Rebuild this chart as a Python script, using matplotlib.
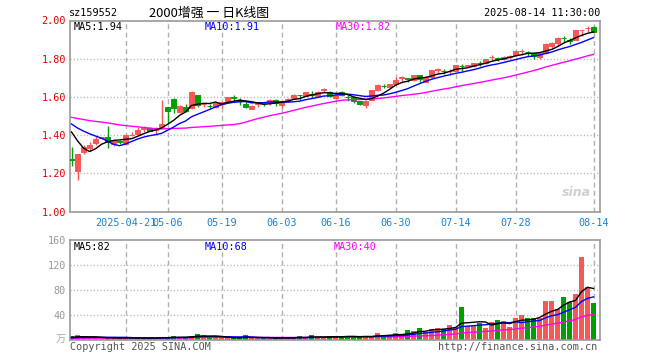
import numpy as np
import pandas as pd
import matplotlib
matplotlib.use("Agg")
import matplotlib.pyplot as plt

# ---------------- data ----------------
opens = [1.275, 1.21, 1.312, 1.335, 1.361, 1.383, 1.388, 1.352, 1.367, 1.356,
         1.398, 1.405, 1.43, 1.439, 1.428, 1.44, 1.547, 1.59, 1.52, 1.549,
         1.54, 1.609, 1.562, 1.553, 1.547, 1.565, 1.577, 1.597, 1.583, 1.565,
         1.539, 1.563, 1.565, 1.574, 1.586, 1.556, 1.577, 1.595, 1.610, 1.607,
         1.614, 1.607, 1.636, 1.624, 1.595, 1.626, 1.600, 1.598, 1.577, 1.556,
         1.586, 1.638, 1.657, 1.652, 1.665, 1.70, 1.697, 1.688, 1.713, 1.678,
         1.706, 1.742, 1.737, 1.734, 1.735, 1.763, 1.762, 1.762, 1.777, 1.775,
         1.808, 1.802, 1.797, 1.81, 1.82, 1.838, 1.837, 1.832, 1.81, 1.828,
         1.866, 1.88, 1.908, 1.897, 1.90, 1.948, 1.96, 1.967]
highs = [1.34, 1.30, 1.35, 1.365, 1.396, 1.392, 1.448, 1.38, 1.375, 1.40,
         1.418, 1.44, 1.45, 1.44, 1.44, 1.582, 1.547, 1.595, 1.56, 1.563,
         1.63, 1.61, 1.568, 1.563, 1.57, 1.575, 1.60, 1.612, 1.595, 1.577,
         1.556, 1.57, 1.568, 1.591, 1.588, 1.575, 1.595, 1.613, 1.612, 1.628,
         1.633, 1.63, 1.644, 1.63, 1.613, 1.63, 1.612, 1.60, 1.58, 1.582,
         1.636, 1.67, 1.665, 1.667, 1.703, 1.71, 1.70, 1.715, 1.715, 1.71,
         1.742, 1.753, 1.748, 1.744, 1.766, 1.77, 1.768, 1.78, 1.788, 1.80,
         1.82, 1.81, 1.812, 1.82, 1.842, 1.85, 1.84, 1.832, 1.83, 1.88,
         1.885, 1.912, 1.919, 1.906, 1.95, 1.952, 1.971, 1.97]
lows = [1.24, 1.165, 1.30, 1.317, 1.347, 1.378, 1.33, 1.345, 1.352, 1.355,
        1.397, 1.40, 1.418, 1.42, 1.40, 1.435, 1.462, 1.515, 1.515, 1.52,
        1.535, 1.547, 1.548, 1.535, 1.54, 1.542, 1.574, 1.581, 1.56, 1.542,
        1.536, 1.547, 1.551, 1.56, 1.552, 1.54, 1.575, 1.592, 1.586, 1.605,
        1.595, 1.605, 1.626, 1.60, 1.59, 1.605, 1.58, 1.57, 1.556, 1.542,
        1.585, 1.63, 1.644, 1.648, 1.662, 1.675, 1.678, 1.685, 1.68, 1.676,
        1.70, 1.727, 1.718, 1.713, 1.733, 1.735, 1.755, 1.757, 1.762, 1.772,
        1.793, 1.788, 1.795, 1.797, 1.815, 1.82, 1.814, 1.797, 1.80, 1.826,
        1.85, 1.865, 1.887, 1.878, 1.898, 1.919, 1.941, 1.94]
closes = [1.272, 1.30, 1.338, 1.35, 1.382, 1.39, 1.365, 1.372, 1.365, 1.40,
          1.403, 1.427, 1.44, 1.423, 1.438, 1.457, 1.524, 1.542, 1.554, 1.528,
          1.628, 1.556, 1.565, 1.55, 1.568, 1.573, 1.60, 1.595, 1.578, 1.548,
          1.554, 1.568, 1.563, 1.586, 1.57, 1.574, 1.591, 1.612, 1.608, 1.626,
          1.611, 1.626, 1.639, 1.603, 1.612, 1.612, 1.597, 1.577, 1.565, 1.581,
          1.635, 1.661, 1.655, 1.665, 1.69, 1.704, 1.695, 1.713, 1.692, 1.706,
          1.741, 1.745, 1.735, 1.737, 1.765, 1.760, 1.765, 1.779, 1.775, 1.80,
          1.811, 1.80, 1.81, 1.812, 1.84, 1.842, 1.835, 1.815, 1.828, 1.879,
          1.884, 1.91, 1.906, 1.895, 1.95, 1.95, 1.963, 1.941]
volumes = [6.5, 8, 4, 3.5, 3.5, 3, 4, 3, 3, 3.5,
           3, 3, 3, 3, 3, 5, 4, 6.4, 4, 3.5,
           7, 9.5, 7.5, 4, 4, 3.5, 3.5, 3, 3, 7.5,
           3, 3, 3, 3, 3, 3.5, 3.5, 3.5, 6.4, 3.5,
           7.5, 3.5, 4, 6.4, 5.3, 6.4, 6.4, 4.3, 4.3, 6.4,
           6.4, 11, 6.4, 7.5, 11, 7.5, 16, 14.4, 19.2, 12.8,
           18, 19, 18, 24, 21, 53, 22, 22, 28, 19,
           29, 32, 30, 21, 35, 40, 35, 35, 35, 62,
           62, 50, 69, 61, 74, 133, 85, 59]
# history before the visible window (inferred from the MA curves at the left edge)
prior_closes = [1.48, 1.50, 1.52, 1.51, 1.49, 1.50, 1.52, 1.53, 1.51, 1.50,
                1.52, 1.54, 1.53, 1.52, 1.50, 1.49, 1.51, 1.52, 1.50, 1.52,
                1.51, 1.50, 1.49, 1.50, 1.50, 1.53, 1.53, 1.44, 1.31]
prior_volumes = [2.5, 2.4, 2.6, 2.5, 2.3, 2.4, 2.5, 2.6, 2.4, 2.3,
                 2.5, 2.4, 2.6, 2.5, 2.4, 2.3, 2.5, 2.4, 2.6, 2.5,
                 2.4, 2.5, 2.6, 2.4, 2.5, 3.5, 3.8, 4.0, 3.7]
tick_idx = [9, 16, 25, 35, 44, 54, 64, 74, 87]
tick_labels = ["2025-04-21", "05-06", "05-19", "06-03", "06-16",
               "06-30", "07-14", "07-28", "08-14"]
price_ticks = [1.0, 1.2, 1.4, 1.6, 1.8, 2.0]
vol_ticks = [40, 80, 120, 160]

# ---------------- styling ----------------
RED = '#f65757'
GREEN = '#009f00'
GRID = '#b0b0b0'
BORDER = '#9a9a9a'
MONO = ['DejaVu Sans Mono', 'Noto Sans CJK SC']
plt.rcParams['font.family'] = MONO

W, H = 660, 360
fig = plt.figure(figsize=(W / 100, H / 100), dpi=100)


def fx(px):
    return px / W


def fy(py):
    return 1 - py / H


ax1 = fig.add_axes([fx(70), fy(211.5), fx(530), 191 / H])
ax2 = fig.add_axes([fx(70), fy(340), fx(530), 100 / H])

o = np.array(opens)
c = np.array(closes)
hi = np.array(highs)
lo = np.array(lows)
v = np.array(volumes)
idx = np.arange(len(c))
up = c >= o
cols = np.where(up, RED, GREEN)

all_c = pd.Series(prior_closes + closes)
all_v = pd.Series(prior_volumes + volumes)
n = len(closes)
ma = {k: all_c.rolling(k).mean().values[-n:] for k in (5, 10, 30)}
vma = {k: all_v.rolling(k).mean().values[-n:] for k in (5, 10, 30)}

for ax in (ax1, ax2):
    ax.set_xlim(-0.25, 88.08)
    for s in ax.spines.values():
        s.set_color(BORDER)
        s.set_linewidth(1.2)
    ax.set_xticks(tick_idx)
    ax.tick_params(length=0)
    ax.set_facecolor('white')
    for t in tick_idx:
        ax.axvline(t, color=GRID, lw=1, ls=(0, (3.5, 2.5)), zorder=0)

# price panel
ax1.set_ylim(1.0, 2.0)
for yv in price_ticks[1:-1]:
    ax1.axhline(yv, color=GRID, lw=1, ls=(0, (0.8, 1.6)), zorder=0)
ax1.vlines(idx, lo, hi, colors=cols, lw=1, zorder=2)
ax1.bar(idx, np.abs(c - o), bottom=np.minimum(o, c), width=0.8,
        color=cols, edgecolor=cols, linewidth=0.7, zorder=3)
ax1.plot(idx, ma[30], color='#ff00ff', lw=1, zorder=4)
ax1.plot(idx, ma[10], color='#0000ff', lw=1, zorder=4)
ax1.plot(idx, ma[5], color='black', lw=1, zorder=4)
ax1.set_yticks(price_ticks)
ax1.set_yticklabels([f"{t:.2f}" for t in price_ticks], color='#e00000', fontsize=7.3)
ax1.tick_params(axis='y', pad=3)
ax1.set_xticklabels(tick_labels, color='#1a82d6', fontsize=7.3)
ax1.tick_params(axis='x', pad=5)

# volume panel
ax2.set_ylim(0, 160)
for yv in vol_ticks[:-1]:
    ax2.axhline(yv, color=GRID, lw=1, ls=(0, (0.8, 1.6)), zorder=0)
ax2.bar(idx, v, width=0.8, color=cols, linewidth=0, zorder=2)
ax2.plot(idx, vma[30], color='#ff00ff', lw=1, zorder=4)
ax2.plot(idx, vma[10], color='#0000ff', lw=1, zorder=4)
ax2.plot(idx, vma[5], color='black', lw=1, zorder=4)
ax2.set_yticks(vol_ticks)
ax2.set_yticklabels([str(t) for t in vol_ticks], color='#999999', fontsize=7.3)
ax2.tick_params(axis='y', pad=3)
ax2.set_xticklabels([])

# header texts
fig.text(fx(69), fy(13), "sz159552", fontsize=7.3, va='center', ha='left')
fig.text(fx(149), fy(13), "2000增强 一 日K线图", fontsize=9.3, va='center',
         ha='left', family=['Noto Sans CJK SC', 'DejaVu Sans'])
fig.text(fx(600), fy(13), "2025-08-14 11:30:00", fontsize=7.3, va='center', ha='right')

# MA legends
fig.text(fx(74), fy(27), "MA5:1.94", fontsize=7.3, va='center', color='black')
fig.text(fx(205), fy(27), "MA10:1.91", fontsize=7.3, va='center', color='#0000ff')
fig.text(fx(336), fy(27), "MA30:1.82", fontsize=7.3, va='center', color='#ff00ff')
fig.text(fx(74), fy(247), "MA5:82", fontsize=7.3, va='center', color='black')
fig.text(fx(205), fy(247), "MA10:68", fontsize=7.3, va='center', color='#0000ff')
fig.text(fx(334), fy(247), "MA30:40", fontsize=7.3, va='center', color='#ff00ff')

# footer
fig.text(fx(66), fy(339), "万", fontsize=7.3, va='center', ha='right', color='#aaaaaa',
         family=['Noto Sans CJK SC', 'DejaVu Sans'])
fig.text(fx(70), fy(347), "Copyright 2025 SINA.COM", fontsize=7.3, va='center', color='#555555')
fig.text(fx(597), fy(347), "http://finance.sina.com.cn", fontsize=7.3, va='center',
         ha='right', color='#555555')

# watermark
fig.text(fx(576), fy(193), "sina", fontsize=9, va='center', ha='center', color='#d0d0d0',
         style='italic', weight='bold', family='DejaVu Sans')

fig.savefig("out.png", dpi=100)
